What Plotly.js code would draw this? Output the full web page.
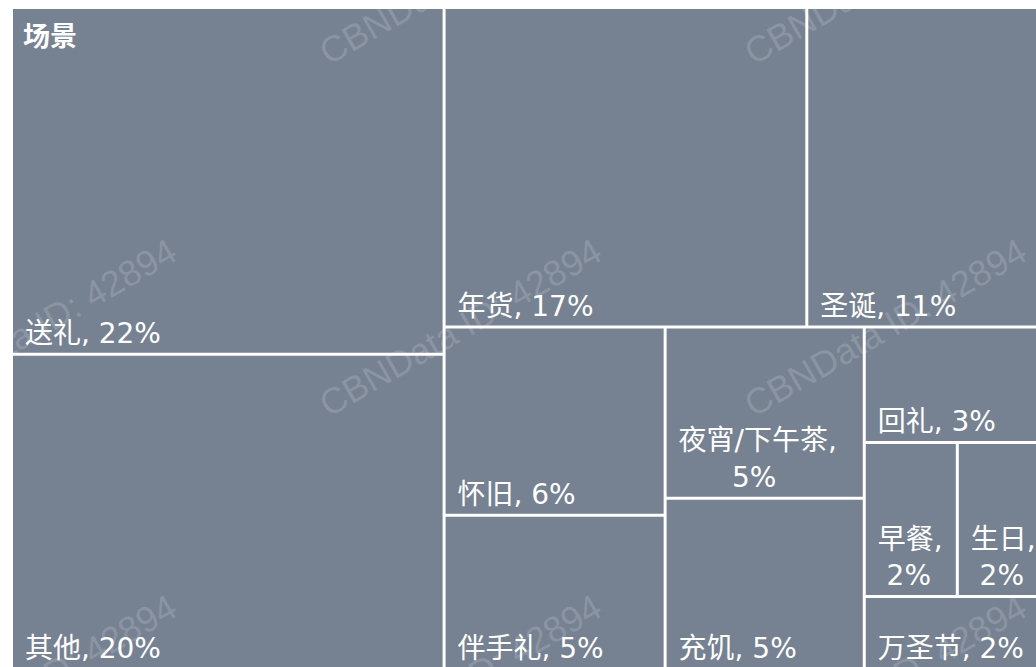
<!DOCTYPE html>
<html>
<head>
<meta charset="utf-8">
<script src="https://cdn.plot.ly/plotly-3.0.1.min.js"></script>
<style>
html,body{margin:0;padding:0;overflow:hidden;background:#fff;}
#chart{width:1040px;height:668px;}
</style>
</head>
<body>
<div id="chart"></div>
<script>
// Data (share of scenes, %)
const rootLabel = '场景';
const categories = ['送礼', '其他', '年货', '圣诞', '怀旧', '伴手礼', '夜宵/下午茶', '充饥', '回礼', '早餐', '生日', '万圣节'];
const shares     = [22, 20, 17, 11, 6.1, 5, 5, 5, 3, 2.1, 1.9, 1.9];
// label / value separator (line break for narrow tiles)
const separators = [', ', ', ', ', ', ', ', ', ', ', ', ',<br>\u00a0\u00a0\u00a0\u00a0\u00a0\u00a0\u00a0', ', ', ', ', ',<br>\u00a0\u00a0', ',<br>\u00a0\u00a0', ', '];
const watermark = 'CBNData ID: 42894';

const tileColor = '#768191';
const gapColor = '#ffffff';
const rootTotal = shares.reduce((a, b) => a + b, 0);

const trace = {
  type: 'treemap',
  labels: [rootLabel].concat(categories),
  parents: [''].concat(categories.map(() => rootLabel)),
  values: [rootTotal].concat(shares),
  branchvalues: 'total',
  customdata: [''].concat(separators),
  texttemplate: [''].concat(categories.map(() => '\u00a0%{label}%{customdata}%{value:.0f}%')),
  textposition: 'bottom left',
  textfont: {family: 'DejaVu Sans, Noto Sans CJK SC, sans-serif', size: 28, color: '#ffffff'},
  marker: {
    colors: [gapColor].concat(categories.map(() => tileColor)),
    line: {color: '#ffffff', width: 0},
    pad: {t: 0, l: 0, r: 0, b: 0}
  },
  tiling: {packing: 'squarify', squarifyratio: 1, pad: 3},
  pathbar: {visible: false},
  sort: true,
  hoverinfo: 'label+value'
};

// faint watermark grid
const wmX = [35, 460, 885];
const wmY = [-25, 327, 683];
const annotations = [];
wmX.forEach(px => wmY.forEach(py => {
  annotations.push({
    xref: 'paper', yref: 'paper',
    x: (px - 13) / 1027, y: 1 - (py - 9) / 659,
    xanchor: 'center', yanchor: 'middle',
    text: watermark, showarrow: false, textangle: -30,
    font: {family: 'Liberation Sans, sans-serif', size: 36, color: 'rgba(255,255,255,0.17)'}
  });
}));
// root label (top-left of the treemap)
annotations.push({
  xref: 'paper', yref: 'paper', x: 0, y: 1, xanchor: 'left', yanchor: 'top',
  xshift: 8, yshift: -4,
  text: '<b>' + rootLabel + '</b>', showarrow: false,
  font: {family: 'Noto Sans CJK SC, sans-serif', size: 27, color: '#ffffff'}
});

const layout = {
  width: 1040, height: 668,
  margin: {l: 13, r: 0, t: 9, b: 0, autoexpand: false},
  paper_bgcolor: '#ffffff',
  annotations: annotations,
  showlegend: false
};

Plotly.newPlot('chart', [trace], layout, {displayModeBar: false, staticPlot: true});
</script>
</body>
</html>
